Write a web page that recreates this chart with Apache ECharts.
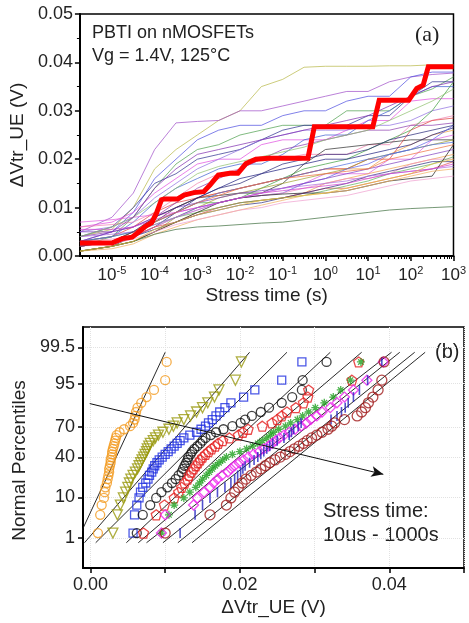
<!DOCTYPE html>
<html><head><meta charset="utf-8">
<script src="https://cdn.jsdelivr.net/npm/echarts@6/dist/echarts.min.js"></script>
<style>html,body{margin:0;padding:0;background:#fff}#c{width:469px;height:623px}</style>
</head><body><div id="c"></div>
<script>
// ---------- Panel (a): ΔVtr_UE vs stress time ----------
// log10 of stress time (s) at which each device trace is sampled
const stressLogTime = [-5.75,-5,-4.5,-4,-3.5,-3,-2.5,-2,-1.5,-1,-0.5,0,0.5,1,1.5,2,2.5,3];
const trace01 = [0.0040,0.0055,0.0100,0.0180,0.0220,0.0250,0.0280,0.0300,0.0350,0.0365,0.0390,0.0392,0.0392,0.0392,0.0393,0.0393,0.0395,0.0395];
const trace02 = [0.0050,0.0080,0.0130,0.0220,0.0275,0.0278,0.0280,0.0300,0.0300,0.0310,0.0320,0.0330,0.0340,0.0340,0.0360,0.0370,0.0375,0.0378];
const trace03 = [0.0030,0.0050,0.0090,0.0160,0.0200,0.0240,0.0260,0.0270,0.0270,0.0290,0.0300,0.0300,0.0320,0.0330,0.0330,0.0370,0.0380,0.0380];
const trace04 = [0.0020,0.0040,0.0080,0.0140,0.0190,0.0220,0.0230,0.0250,0.0260,0.0270,0.0270,0.0270,0.0300,0.0300,0.0300,0.0330,0.0345,0.0370];
const trace05 = [0.0040,0.0060,0.0100,0.0150,0.0170,0.0200,0.0210,0.0220,0.0240,0.0260,0.0270,0.0270,0.0270,0.0290,0.0290,0.0330,0.0360,0.0360];
const trace06 = [0.0060,0.0070,0.0090,0.0130,0.0160,0.0190,0.0200,0.0200,0.0230,0.0240,0.0240,0.0240,0.0260,0.0280,0.0280,0.0320,0.0325,0.0325];
const trace07 = [0.0050,0.0060,0.0080,0.0120,0.0150,0.0180,0.0200,0.0220,0.0240,0.0250,0.0260,0.0260,0.0260,0.0270,0.0270,0.0280,0.0300,0.0310];
const trace08 = [0.0030,0.0040,0.0070,0.0110,0.0140,0.0160,0.0180,0.0190,0.0190,0.0210,0.0240,0.0250,0.0250,0.0280,0.0300,0.0330,0.0350,0.0350];
const trace09 = [0.0060,0.0065,0.0070,0.0090,0.0120,0.0150,0.0170,0.0180,0.0200,0.0200,0.0210,0.0210,0.0210,0.0230,0.0230,0.0270,0.0280,0.0290];
const trace10 = [0.0020,0.0030,0.0050,0.0080,0.0100,0.0120,0.0130,0.0140,0.0150,0.0160,0.0170,0.0180,0.0180,0.0180,0.0210,0.0230,0.0250,0.0260];
const trace11 = [0.0010,0.0020,0.0040,0.0070,0.0100,0.0120,0.0125,0.0130,0.0130,0.0150,0.0190,0.0220,0.0225,0.0230,0.0235,0.0240,0.0240,0.0240];
const trace12 = [0.0030,0.0040,0.0060,0.0090,0.0110,0.0120,0.0130,0.0140,0.0150,0.0160,0.0170,0.0180,0.0180,0.0200,0.0200,0.0260,0.0280,0.0285];
const trace13 = [0.0040,0.0050,0.0060,0.0080,0.0110,0.0140,0.0160,0.0180,0.0200,0.0220,0.0230,0.0240,0.0250,0.0260,0.0260,0.0270,0.0270,0.0275];
const trace14 = [0.0020,0.0030,0.0050,0.0070,0.0090,0.0110,0.0110,0.0120,0.0140,0.0160,0.0180,0.0190,0.0200,0.0220,0.0240,0.0260,0.0300,0.0360];
const trace15 = [0.0020,0.0030,0.0040,0.0060,0.0090,0.0120,0.0140,0.0160,0.0170,0.0180,0.0190,0.0200,0.0200,0.0210,0.0220,0.0230,0.0250,0.0265];
const trace16 = [0.0070,0.0075,0.0080,0.0085,0.0090,0.0100,0.0110,0.0120,0.0130,0.0140,0.0150,0.0170,0.0170,0.0170,0.0200,0.0200,0.0240,0.0250];
const trace17 = [0.0010,0.0020,0.0030,0.0050,0.0080,0.0100,0.0120,0.0130,0.0140,0.0150,0.0160,0.0170,0.0180,0.0200,0.0210,0.0220,0.0230,0.0240];
const trace18 = [0.0020,0.0030,0.0040,0.0060,0.0080,0.0100,0.0110,0.0120,0.0125,0.0130,0.0150,0.0160,0.0180,0.0190,0.0210,0.0220,0.0240,0.0270];
const trace19 = [0.0010,0.0020,0.0030,0.0050,0.0070,0.0090,0.0100,0.0110,0.0115,0.0120,0.0130,0.0150,0.0160,0.0170,0.0180,0.0190,0.0200,0.0210];
const trace20 = [0.0030,0.0035,0.0040,0.0060,0.0080,0.0095,0.0110,0.0120,0.0125,0.0130,0.0140,0.0150,0.0160,0.0160,0.0170,0.0190,0.0200,0.0200];
const trace21 = [0.0050,0.0050,0.0060,0.0080,0.0100,0.0110,0.0120,0.0130,0.0135,0.0140,0.0150,0.0160,0.0170,0.0180,0.0190,0.0200,0.0210,0.0220];
const trace22 = [0.0020,0.0030,0.0040,0.0060,0.0070,0.0085,0.0100,0.0110,0.0115,0.0120,0.0130,0.0140,0.0140,0.0150,0.0160,0.0170,0.0180,0.0195];
const trace23 = [0.0030,0.0040,0.0050,0.0065,0.0080,0.0090,0.0100,0.0110,0.0115,0.0120,0.0125,0.0135,0.0145,0.0155,0.0170,0.0180,0.0190,0.0205];
const trace24 = [0.0010,0.0020,0.0030,0.0050,0.0070,0.0090,0.0110,0.0120,0.0125,0.0128,0.0130,0.0130,0.0135,0.0145,0.0155,0.0160,0.0165,0.0230];
const trace25 = [0.0020,0.0030,0.0040,0.0055,0.0070,0.0085,0.0095,0.0105,0.0110,0.0120,0.0130,0.0140,0.0150,0.0165,0.0175,0.0185,0.0195,0.0195];
const trace26 = [0.0040,0.0045,0.0050,0.0065,0.0080,0.0095,0.0110,0.0120,0.0130,0.0140,0.0145,0.0150,0.0155,0.0165,0.0170,0.0175,0.0180,0.0185];
const trace27 = [0.0010,0.0015,0.0025,0.0045,0.0060,0.0075,0.0085,0.0095,0.0105,0.0115,0.0125,0.0130,0.0135,0.0145,0.0155,0.0165,0.0175,0.0180];
const trace28 = [0.0020,0.0025,0.0035,0.0050,0.0065,0.0075,0.0085,0.0095,0.0100,0.0110,0.0115,0.0120,0.0125,0.0135,0.0145,0.0155,0.0160,0.0165];
const trace29 = [0.0010,0.0020,0.0030,0.0045,0.0055,0.0060,0.0062,0.0065,0.0068,0.0070,0.0075,0.0080,0.0085,0.0090,0.0095,0.0098,0.0100,0.0102];
const trace30 = [0.0055,0.0055,0.0060,0.0075,0.0090,0.0100,0.0110,0.0120,0.0130,0.0135,0.0140,0.0145,0.0150,0.0160,0.0170,0.0175,0.0180,0.0190];
const trace31 = [0.0030,0.0040,0.0050,0.0070,0.0090,0.0110,0.0130,0.0140,0.0150,0.0160,0.0170,0.0180,0.0190,0.0200,0.0210,0.0220,0.0230,0.0235];
const trace32 = [0.0040,0.0060,0.0080,0.0110,0.0140,0.0170,0.0185,0.0195,0.0205,0.0215,0.0225,0.0240,0.0250,0.0260,0.0280,0.0300,0.0320,0.0345];
const trace33 = [0.0020,0.0030,0.0050,0.0070,0.0090,0.0110,0.0125,0.0140,0.0150,0.0160,0.0165,0.0170,0.0175,0.0180,0.0200,0.0210,0.0220,0.0230];
const trace34 = [0.0030,0.0050,0.0080,0.0140,0.0180,0.0210,0.0220,0.0230,0.0240,0.0250,0.0260,0.0270,0.0280,0.0290,0.0310,0.0330,0.0350,0.0360];
const trace35 = [0.0020,0.0030,0.0050,0.0080,0.0100,0.0120,0.0140,0.0150,0.0170,0.0190,0.0200,0.0210,0.0210,0.0220,0.0240,0.0250,0.0260,0.0270];
const trace36 = [0.0010,0.0020,0.0030,0.0055,0.0070,0.0085,0.0095,0.0105,0.0115,0.0120,0.0125,0.0130,0.0140,0.0150,0.0160,0.0170,0.0190,0.0200];
const traceColors = ['#b8b848','#a050c8','#5050e0','#50a050','#303090','#e050e0','#9070e0','#4060d0','#f080b0','#f0a040','#303030','#e04040','#9040b0','#40a040','#202080','#e060e0','#a0a030','#6060e8','#f0a050','#f090c0','#8040c0','#e05050','#60b060','#202020','#303080','#b070e0','#f0b060','#f0a0d0','#407040','#d040d0','#5070e0','#90c070','#f07040','#8030b0','#282878','#e8c040'];
// highlighted device (thick red)
const highlightLogTime = [-5.75,-5,-4.76,-4.53,-4.41,-4.22,-4.07,-3.96,-3.84,-3.77,-3.46,-3.31,-3.08,-2.85,-2.70,-2.51,-2.24,-2.05,-1.86,-1.63,-1.33,-0.41,-0.26,1.11,1.26,1.95,2.14,2.29,2.41,3];
const highlightShift = [0.0027,0.0027,0.0036,0.0039,0.0047,0.0061,0.0069,0.0088,0.0116,0.0118,0.0118,0.0126,0.0131,0.0133,0.0147,0.0167,0.0171,0.0171,0.0191,0.0200,0.0202,0.0202,0.0267,0.0267,0.0322,0.0322,0.0346,0.0353,0.0391,0.0391];
const decadeExponents = [-5,-4,-3,-2,-1,0,1,2,3];

// ---------- Panel (b): normal probability plot ----------
const percentileTicks = [1,10,40,70,95,99.5];
const shift10us   = [0.0010,0.0013,0.0015,0.0018,0.0019,0.0020,0.0022,0.0023,0.0024,0.0025,0.0025,0.0026,0.0027,0.0027,0.0028,0.0029,0.0029,0.0030,0.0031,0.0032,0.0033,0.0034,0.0035,0.0039,0.0045,0.0053,0.0057,0.0059,0.0060,0.0061,0.0063,0.0068,0.0075,0.0085,0.0100,0.0102];
const shift100us  = [0.0030,0.0036,0.0040,0.0044,0.0047,0.0050,0.0052,0.0054,0.0057,0.0060,0.0063,0.0065,0.0067,0.0069,0.0071,0.0073,0.0075,0.0076,0.0078,0.0080,0.0084,0.0087,0.0091,0.0097,0.0105,0.0111,0.0116,0.0125,0.0134,0.0142,0.0150,0.0157,0.0166,0.0172,0.0194,0.0202];
const shift1ms    = [0.0057,0.0059,0.0062,0.0065,0.0067,0.0070,0.0074,0.0077,0.0079,0.0082,0.0084,0.0086,0.0089,0.0092,0.0096,0.0100,0.0104,0.0108,0.0112,0.0116,0.0120,0.0125,0.0133,0.0142,0.0148,0.0154,0.0158,0.0163,0.0168,0.0173,0.0180,0.0188,0.0205,0.0220,0.0256,0.0283];
const shift10ms   = [0.0062,0.0070,0.0080,0.0088,0.0095,0.0103,0.0109,0.0114,0.0118,0.0122,0.0124,0.0126,0.0128,0.0130,0.0131,0.0134,0.0136,0.0139,0.0143,0.0147,0.0150,0.0154,0.0161,0.0168,0.0178,0.0190,0.0201,0.0207,0.0216,0.0228,0.0239,0.0256,0.0270,0.0283,0.0284,0.0316];
const shift100ms  = [0.0071,0.0088,0.0099,0.0112,0.0118,0.0122,0.0126,0.0130,0.0132,0.0135,0.0138,0.0141,0.0144,0.0147,0.0150,0.0154,0.0158,0.0162,0.0167,0.0171,0.0177,0.0186,0.0198,0.0204,0.0211,0.0230,0.0243,0.0250,0.0256,0.0263,0.0275,0.0285,0.0291,0.0292,0.0350,0.0359];
const shift1s     = [0.0095,0.0105,0.0112,0.0125,0.0133,0.0141,0.0146,0.0150,0.0155,0.0159,0.0163,0.0167,0.0172,0.0177,0.0182,0.0190,0.0200,0.0209,0.0217,0.0224,0.0230,0.0236,0.0241,0.0245,0.0252,0.0261,0.0268,0.0277,0.0284,0.0292,0.0301,0.0313,0.0325,0.0335,0.0348,0.0362];
const shift10s    = [0.0095,0.0100,0.0138,0.0143,0.0152,0.0160,0.0165,0.0170,0.0176,0.0184,0.0188,0.0193,0.0199,0.0205,0.0211,0.0218,0.0226,0.0232,0.0238,0.0243,0.0248,0.0253,0.0259,0.0266,0.0274,0.0282,0.0289,0.0295,0.0303,0.0310,0.0321,0.0330,0.0340,0.0352,0.0370,0.0392];
const shift100s   = [0.0120,0.0140,0.0150,0.0160,0.0170,0.0180,0.0188,0.0193,0.0197,0.0201,0.0204,0.0207,0.0213,0.0219,0.0224,0.0228,0.0232,0.0236,0.0240,0.0244,0.0250,0.0259,0.0266,0.0269,0.0272,0.0278,0.0282,0.0322,0.0330,0.0336,0.0341,0.0345,0.0352,0.0360,0.0371,0.0390];
const shift1000s  = [0.0100,0.0160,0.0182,0.0188,0.0193,0.0198,0.0203,0.0208,0.0215,0.0222,0.0228,0.0234,0.0240,0.0247,0.0254,0.0261,0.0267,0.0273,0.0279,0.0285,0.0290,0.0296,0.0303,0.0310,0.0318,0.0323,0.0327,0.0340,0.0357,0.0363,0.0368,0.0372,0.0378,0.0385,0.0390,0.0393];
// fitted lines: ΔVtr at the lower / upper z of each fit segment
const fitZ = [-2.45, 2.45];
const fitLow  = [-0.0019,-0.0008,0.0007,0.0048,0.0064,0.0075,0.0097,0.0117,0.0136];
const fitHigh = [0.0100,0.0213,0.0263,0.0321,0.0363,0.0403,0.0414,0.0434,0.0448];
const arrowStart = [-0.0001, 1.13];
const arrowEnd = [0.0392, -0.69];

// ---------- helpers ----------
function probit(p){
  const a=[-3.969683028665376e+01,2.209460984245205e+02,-2.759285104469687e+02,1.383577518672690e+02,-3.066479806614716e+01,2.506628277459239e+00];
  const b=[-5.447609879822406e+01,1.615858368580409e+02,-1.556989798598866e+02,6.680131188771972e+01,-1.328068155288572e+01];
  const c=[-7.784894002430293e-03,-3.223964580411365e-01,-2.400758277161838e+00,-2.549732539343734e+00,4.374664141464968e+00,2.938163982698783e+00];
  const d=[7.784695709041462e-03,3.224671290700398e-01,2.445134137142996e+00,3.754408661907416e+00];
  const pl=0.02425; let q,r;
  if(p<pl){q=Math.sqrt(-2*Math.log(p));return (((((c[0]*q+c[1])*q+c[2])*q+c[3])*q+c[4])*q+c[5])/((((d[0]*q+d[1])*q+d[2])*q+d[3])*q+1);}
  if(p<=1-pl){q=p-0.5;r=q*q;return (((((a[0]*r+a[1])*r+a[2])*r+a[3])*r+a[4])*r+a[5])*q/(((((b[0]*r+b[1])*r+b[2])*r+b[3])*r+b[4])*r+1);}
  q=Math.sqrt(-2*Math.log(1-p));return -(((((c[0]*q+c[1])*q+c[2])*q+c[3])*q+c[4])*q+c[5])/((((d[0]*q+d[1])*q+d[2])*q+d[3])*q+1);
}
const zTicks = percentileTicks.map(p => probit(p/100));
const minorExponents = [];
for (let n=-6;n<=2;n++) for (let k=2;k<=9;k++){ const e=n+Math.log10(k); if(e>-5.75 && e<3) minorExponents.push(e); }

const traces = [trace01,trace02,trace03,trace04,trace05,trace06,trace07,trace08,trace09,trace10,trace11,trace12,trace13,trace14,trace15,trace16,trace17,trace18,trace19,trace20,trace21,trace22,trace23,trace24,trace25,trace26,trace27,trace28,trace29,trace30,trace31,trace32,trace33,trace34,trace35,trace36];

const FONT = 'Liberation Sans, Arial, sans-serif';
const series = [];
traces.forEach((tr,i)=>{
  series.push({type:'line', xAxisIndex:0, yAxisIndex:0, showSymbol:false, silent:true,
    data: stressLogTime.map((t,j)=>[t,tr[j]]),
    lineStyle:{width:0.9, color:traceColors[i], opacity:0.8}, z:2});
});
series.push({type:'line', xAxisIndex:0, yAxisIndex:0, showSymbol:false, silent:true,
  data: highlightLogTime.map((t,j)=>[t,highlightShift[j]]),
  lineStyle:{width:5, color:'#ff0000', join:'miter'}, z:5});

const probDefs = [
  {d:shift10us,  c:'#f39a1e', s:'circle', size:9},
  {d:shift100us, c:'#9a9a10', s:'path://M0,0L10,0L5,9Z', size:10},
  {d:shift1ms,   c:'#1e2ee0', s:'rect', size:8},
  {d:shift10ms,  c:'#111111', s:'circle', size:9},
  {d:shift100ms, c:'#e41e1e', s:'path://M5,0L10,3.8L8.1,10L1.9,10L0,3.8Z', size:10},
  {d:shift1s,    c:'#20a020', s:'path://M5,0L5,10M0,5L10,5M1.5,1.5L8.5,8.5M8.5,1.5L1.5,8.5', size:8},
  {d:shift10s,   c:'#ee22ee', s:'diamond', size:10},
  {d:shift100s,  c:'#2626c0', s:'rect', size:[1.6,10], fill:true},
  {d:shift1000s, c:'#a01c1c', s:'circle', size:10}
];
fitLow.forEach((lo,i)=>{
  series.push({type:'line', xAxisIndex:2, yAxisIndex:1, showSymbol:false, silent:true,
    data:[[lo,fitZ[0]],[fitHigh[i],fitZ[1]]], lineStyle:{width:0.9,color:'#111'}, z:3});
});
probDefs.forEach(pd=>{
  const n = pd.d.length;
  series.push({type:'scatter', xAxisIndex:2, yAxisIndex:1, silent:true, symbol:pd.s, symbolSize:pd.size,
    data: pd.d.map((v,i)=>[v, probit((i+0.5)/n)]),
    itemStyle: pd.fill ? {color:pd.c} : {color:'rgba(0,0,0,0)', borderColor:pd.c, borderWidth:1.3}, z:4});
});
series.push({type:'line', xAxisIndex:2, yAxisIndex:1, data:[], silent:true,
  markLine:{silent:true, symbol:['none','arrow'], symbolSize:[8,12], label:{show:false},
    lineStyle:{color:'#111', width:1, type:'solid'},
    data:[[{coord:arrowStart},{coord:arrowEnd}]]}, z:6});

const option = {
  animation:false,
  backgroundColor:'#fff',
  textStyle:{fontFamily:FONT},
  grid:[
    {left:72, top:14, width:384, height:242, show:true, borderColor:'#000', borderWidth:1.5},
    {left:83, top:327, width:381, height:241, show:true, borderColor:'#000', borderWidth:1.5}
  ],
  xAxis:[
    {gridIndex:0, type:'value', min:-5.75, max:3, position:'bottom',
     axisLine:{onZero:false, lineStyle:{color:'#000', width:2}},
     axisTick:{customValues:decadeExponents, length:5, lineStyle:{width:1.5,color:'#000'}},
     axisLabel:{customValues:decadeExponents, margin:9, color:'#222',
       formatter:v=>'{b|10}{s|'+v+'}',
       rich:{b:{fontSize:17,fontFamily:FONT,color:'#222'}, s:{fontSize:11,fontFamily:FONT,color:'#222',padding:[0,0,9,0]}}},
     splitLine:{show:false},
     name:'Stress time (s)', nameLocation:'middle', nameGap:30,
     nameTextStyle:{fontSize:19,color:'#222',fontFamily:FONT}},
    {gridIndex:0, type:'value', min:-5.75, max:3, position:'bottom',
     axisLine:{show:false, onZero:false},
     axisTick:{customValues:minorExponents, length:3, lineStyle:{width:1,color:'#000'}},
     axisLabel:{show:false}, splitLine:{show:false}},
    {gridIndex:1, type:'value', min:-0.001, max:0.05, position:'bottom',
     axisLine:{onZero:false, lineStyle:{color:'#000', width:2}},
     axisTick:{customValues:[0,0.01,0.02,0.03,0.04,0.05], length:5, lineStyle:{width:1.5,color:'#000'}},
     axisLabel:{customValues:[0,0.02,0.04], formatter:v=>v.toFixed(2), fontSize:18, color:'#222', margin:8},
     splitLine:{show:true, lineStyle:{color:'#e2e2e2', type:'dotted', width:1}},
     name:'ΔVtr_UE (V)', nameLocation:'middle', nameGap:30,
     nameTextStyle:{fontSize:19,color:'#222',fontFamily:FONT}}
  ],
  yAxis:[
    {gridIndex:0, type:'value', min:0, max:0.05, interval:0.01,
     axisLine:{onZero:false, lineStyle:{color:'#000', width:2}},
     axisTick:{length:5, lineStyle:{width:1.5,color:'#000'}},
     minorTick:{show:true, splitNumber:2, length:3, lineStyle:{color:'#000', width:1}},
     axisLabel:{formatter:v=>v.toFixed(2), fontSize:18, color:'#222', margin:7},
     splitLine:{show:false},
     name:'ΔVtr_UE (V)', nameLocation:'middle', nameGap:48,
     nameTextStyle:{fontSize:19,color:'#222',fontFamily:FONT}},
    {gridIndex:1, type:'value', min:-3.1, max:3.1,
     axisLine:{onZero:false, lineStyle:{color:'#000', width:2}},
     axisTick:{customValues:zTicks, length:5, lineStyle:{width:1.5,color:'#000'}},
     axisLabel:{customValues:zTicks, fontSize:18, color:'#222', margin:8,
       formatter:v=>{let k=0,b=1e9; zTicks.forEach((z,i)=>{if(Math.abs(z-v)<b){b=Math.abs(z-v);k=i;}}); return String(percentileTicks[k]);}},
     splitLine:{show:true, lineStyle:{color:'#e2e2e2', type:'dotted', width:1}},
     name:'Normal Percentiles', nameLocation:'middle', nameGap:45,
     nameTextStyle:{fontSize:19,color:'#222',fontFamily:FONT,padding:[0,26,0,0]}}
  ],
  graphic:[
    {type:'text', left:92, top:24, style:{text:'PBTI on nMOSFETs', fontSize:18, fontFamily:FONT, fill:'#222'}},
    {type:'text', left:92, top:47, style:{text:'Vg = 1.4V, 125°C', fontSize:18, fontFamily:FONT, fill:'#222'}},
    {type:'text', left:415, top:24, style:{text:'(a)', fontSize:22, fontFamily:'Liberation Serif, Times New Roman, serif', fill:'#222'}},
    {type:'text', left:435, top:342, style:{text:'(b)', fontSize:20, fontFamily:FONT, fill:'#222'}},
    {type:'text', left:323, top:501, style:{text:'Stress time:', fontSize:20, fontFamily:FONT, fill:'#222'}},
    {type:'text', left:323, top:525, style:{text:'10us - 1000s', fontSize:20, fontFamily:FONT, fill:'#222'}}
  ],
  series
};
echarts.init(document.getElementById('c'), null, {renderer:'canvas'}).setOption(option);
</script></body></html>
